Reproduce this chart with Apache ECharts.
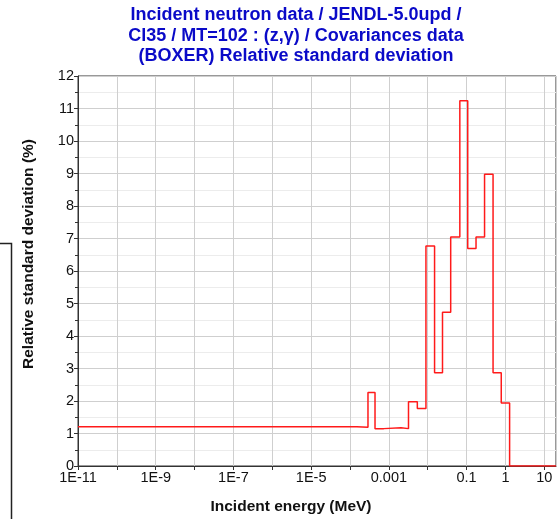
<!DOCTYPE html>
<html>
<head>
<meta charset="utf-8">
<script src="https://cdn.jsdelivr.net/npm/echarts@6/dist/echarts.min.js"></script>
<style>html,body{margin:0;padding:0;background:#fff}#c{width:557px;height:519px}</style>
</head>
<body>
<div id="c"></div>
<script>
// Bin edges (MeV) and relative standard deviation (%) per bin
const binEdges = [1e-11, 1.5e-4, 2.9e-4, 4.4e-4, 7.4e-4, 2.06e-3, 3.2e-3, 5.4e-3, 9e-3, 1.5e-2, 2.4e-2, 3.9e-2, 6.7e-2, 0.107, 0.175, 0.29, 0.48, 0.78, 1.28, 20];
const binValues = [1.21, 1.19, 2.26, 1.15, 1.18, 1.15, 1.98, 1.77, 6.77, 2.87, 4.73, 7.05, 11.24, 6.69, 7.05, 8.98, 2.87, 1.94, 0];
const xTickExps = [-11, -9, -7, -5, -3, -1, 0, 1];
const xTickLabels = ['1E-11', '1E-9', '1E-7', '1E-5', '0.001', '0.1', '1', '10'];
const titleLines = ['Incident neutron data / JENDL-5.0upd /', 'Cl35 / MT=102 : (z,\u03b3) / Covariances data', '(BOXER) Relative standard deviation'];
const xTitle = 'Incident energy (MeV)';
const yTitle = 'Relative standard deviation (%)';

const stepData = binValues.map((v, i) => [binEdges[i], v]);
stepData.push([binEdges[binEdges.length - 1], binValues[binValues.length - 1]]);

const chart = echarts.init(document.getElementById('c'), null, {renderer: 'canvas'});
const font = 'Arial, "Liberation Sans", sans-serif';
chart.setOption({
  animation: false,
  backgroundColor: '#fff',
  title: {
    text: titleLines.join('\n'),
    left: 291, top: 0, textAlign: 'center',
    textStyle: {fontSize: 18, fontWeight: 'bold', color: '#0a0ac8', lineHeight: 20.5, fontFamily: font}
  },
  grid: {left: 78, top: 76, right: 1, bottom: 53, show: true, borderColor: '#333', borderWidth: 1, containLabel: false},
  xAxis: {
    type: 'log', logBase: 10, min: 1e-11, max: 20, interval: 1,
    axisLine: {show: true, onZero: false, lineStyle: {color: '#333', width: 1}},
    axisTick: {show: true, length: 4, lineStyle: {color: '#333'}},
    axisLabel: {
      fontSize: 14.5, color: '#111', fontFamily: font, margin: 4, showMaxLabel: false,
      formatter: function (v) {
        const lg = Math.log10(v);
        const e = Math.round(lg);
        if (Math.abs(lg - e) > 1e-6) return '';
        const i = xTickExps.indexOf(e);
        return i >= 0 ? xTickLabels[i] : '';
      }
    },
    splitLine: {show: true, lineStyle: {color: '#cfcfcf', width: 1}}
  },
  yAxis: {
    type: 'value', min: 0, max: 12, interval: 1,
    axisLine: {show: true, lineStyle: {color: '#333', width: 1}},
    axisTick: {show: true, length: 4, lineStyle: {color: '#333'}},
    minorTick: {show: true, splitNumber: 2, length: 3, lineStyle: {color: '#333'}},
    axisLabel: {fontSize: 14.5, color: '#111', fontFamily: font, margin: 4},
    splitLine: {show: true, lineStyle: {color: '#cfcfcf', width: 1}},
    minorSplitLine: {show: true, lineStyle: {color: '#ececec', width: 1}}
  },
  series: [{
    type: 'line', step: 'end', data: stepData, showSymbol: false, symbol: 'none',
    lineStyle: {color: '#ff1a1a', width: 1.5}, clip: true
  }],
  graphic: [
    {type: 'text', x: 291, y: 507, style: {text: xTitle, fontSize: 15.5, fontWeight: 'bold', fontFamily: font, fill: '#111', textAlign: 'center', textVerticalAlign: 'middle'}},
    {type: 'text', x: 29, y: 254, rotation: Math.PI / 2, style: {text: yTitle, fontSize: 15.5, fontWeight: 'bold', fontFamily: font, fill: '#111', textAlign: 'center', textVerticalAlign: 'middle'}},
    {type: 'polyline', shape: {points: [[0, 243.5], [11.5, 243.5], [11.5, 519]]}, style: {stroke: '#222', lineWidth: 1.5, fill: null}}
  ]
});
</script>
</body>
</html>
